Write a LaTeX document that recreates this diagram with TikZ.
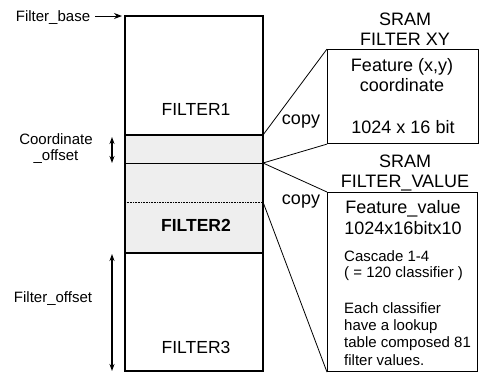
\documentclass[tikz,border=0pt]{standalone}
\usepackage{fontspec}
\setmainfont{Liberation Sans}
\usetikzlibrary{arrows.meta, positioning}

\tikzset{
  rand/.style={draw, line width=1.1pt},
  kasten/.style={draw, line width=1.1pt, inner sep=0pt},
  gross/.style={font=\fontsize{18}{19.5}\selectfont, inner sep=0pt, align=center},
  mittel/.style={font=\fontsize{17.5}{20}\selectfont, inner sep=0pt},
  klein/.style={font=\fontsize{15}{16}\selectfont, inner sep=0pt},
  pfeil/.style={line width=1pt, -{Stealth[length=8pt,width=6pt]}},
  doppelpfeil/.style={line width=1.2pt, {Stealth[length=7pt,width=5pt]}-{Stealth[length=7pt,width=5pt]}},
  kopie/.style={line width=0.8pt},
}

\begin{document}
\begin{tikzpicture}[x=1pt, y=-1pt]
  \useasboundingbox (0,0) rectangle (481,373);

  % Speicherblock
  \fill[gray!13] (125,135) rectangle (263,253);
  \draw[rand] (125,16) rectangle (263,371);
  \draw[rand] (125,135) -- (263,135);
  \draw[line width=0.8pt] (125,163) -- (263,163);
  \draw[line width=0.6pt, densely dotted] (125,202) -- (263,202);
  \draw[rand] (125,253) -- (263,253);

  \coordinate (basis) at (122,16);
  \coordinate (f1u) at (263,135);
  \coordinate (ko) at (263,163);
  \coordinate (f2o) at (263,202);

  \node[mittel, anchor=base] (filter1) at (196,115) {FILTER1};
  \node[mittel, anchor=base, font=\fontsize{17.5}{20}\selectfont\bfseries] (filter2) at (196,231) {FILTER2};
  \node[mittel, anchor=base] (filter3) at (196,353) {FILTER3};

  % Beschriftung links
  \node[klein, anchor=base] (fbase) at (53,21) {Filter\_base};
  \draw[pfeil] ([xshift=5pt]fbase.east |- basis) -- (basis);

  \node[klein, anchor=base, align=center, font=\fontsize{15}{16}\selectfont] (koff) at (56,160) {Coordinate\\\_offset};
  \coordinate (ka) at (112,137);
  \coordinate (kb) at (112,163);
  \draw[doppelpfeil] (ka) -- (kb);

  \node[klein, anchor=base] (foff) at (53,302) {Filter\_offset};
  \coordinate (fa) at (112,254);
  \coordinate (fb) at (112,371);
  \draw[doppelpfeil] (fa) -- (fb);

  % SRAM FILTER XY
  \node[gross, anchor=base] (sramxy) at (405,45) {SRAM\\FILTER XY};
  \node[kasten, minimum width=151pt, minimum height=94pt, anchor=north west] (xy) at (327,49) {};
  \node[gross, anchor=base] (featxy) at (402,91) {Feature (x,y)\\coordinate};
  \node[gross, anchor=base] (bitxy) at (403,133) {1024 x 16 bit};

  % SRAM FILTER_VALUE
  \node[gross, anchor=base, font=\fontsize{18}{20}\selectfont] (sramwert) at (405,187) {SRAM\\FILTER\_VALUE};
  \node[kasten, minimum width=150pt, minimum height=179pt, anchor=north west] (wert) at (327,192) {};
  \node[gross, anchor=base, font=\fontsize{18}{21}\selectfont] (featwert) at (403,234) {Feature\_value\\1024x16bitx10};
  \node[klein, anchor=base west, align=left, font=\fontsize{15}{15.5}\selectfont] (kaskade) at (344,277) {Cascade 1-4\\( = 120 classifier )};
  \node[klein, anchor=base west, align=left, font=\fontsize{15}{17.3}\selectfont] (tabelle) at (344,365) {Each classifier\\have a lookup\\table composed  81\\filter values.};

  % Kopierlinien
  \draw[kopie] (f1u) -- (xy.north west);
  \draw[kopie] (ko) -- (xy.south west);
  \draw[kopie] (ko) -- (wert.north west);
  \draw[kopie] (f2o) -- (wert.south west);
  \node[gross, anchor=base] (copy1) at (301,124.5) {copy};
  \node[gross, anchor=base] (copy2) at (301,204) {copy};
\end{tikzpicture}
\end{document}
